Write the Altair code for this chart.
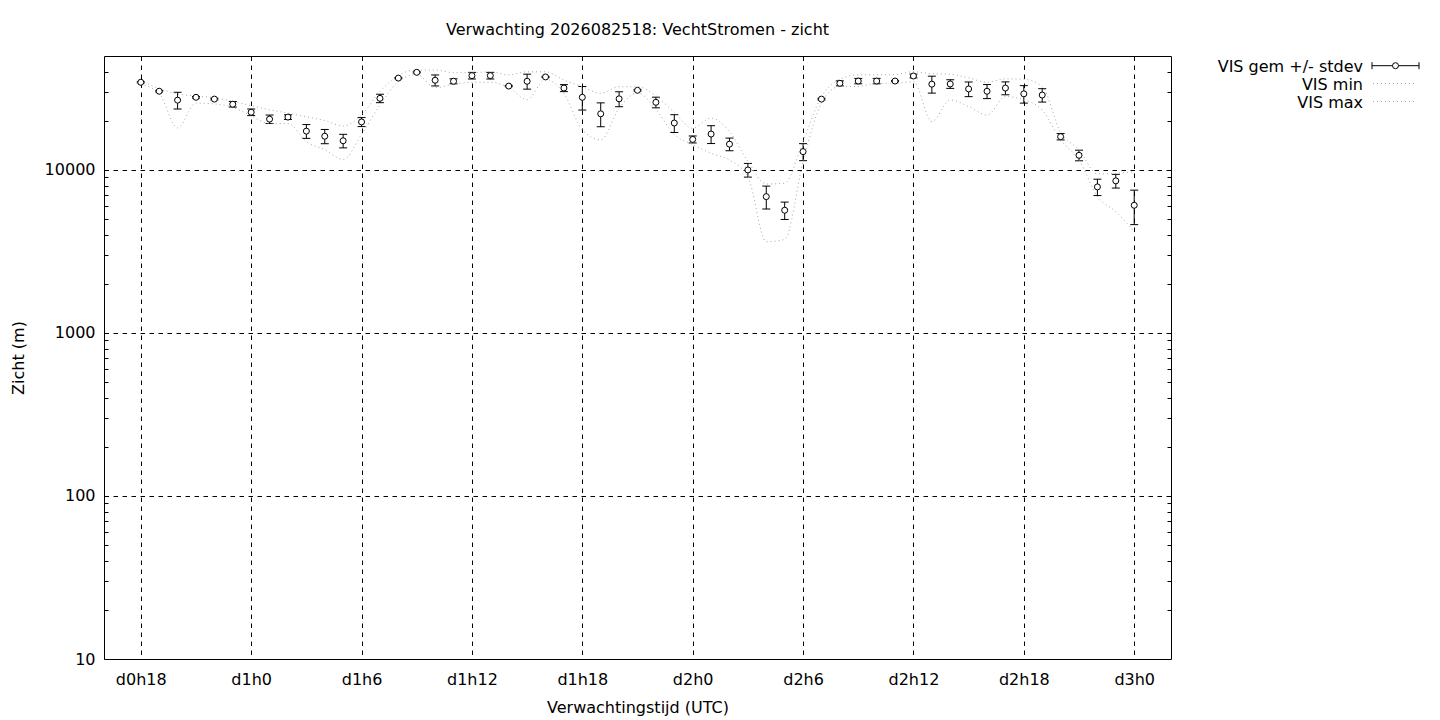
import altair as alt
import pandas as pd

# ---------------- data ----------------
hours = [18, 19, 20, 21, 22, 23, 24, 25, 26, 27, 28, 29, 30, 31, 32, 33, 34, 35, 36,
         37, 38, 39, 40, 41, 42, 43, 44, 45, 46, 47, 48, 49, 50, 51, 52, 53, 54, 55,
         56, 57, 58, 59, 60, 61, 62, 63, 64, 65, 66, 67, 68, 69, 70, 71, 72]

vis_mean = [34500, 30400, 26800, 27900, 27200, 25300, 22600, 20500, 21100, 17300,
            16100, 15100, 19700, 27500, 36600, 39700, 35500, 35000, 37900, 37900,
            32700, 35000, 37200, 31800, 27900, 22100, 27300, 30800, 26000, 19400,
            15400, 16600, 14400, 10000, 6860, 5660, 12950, 27200, 34000, 35100,
            35100, 35100, 37700, 33600, 33700, 31400, 30400, 31800, 29300, 28800,
            16000, 12300, 7870, 8570, 6070]

vis_std = [300, 300, 3150, 300, 300, 1000, 1050, 1215, 690, 1685,
           1615, 1440, 1250, 1630, 300, 300, 2750, 1240, 1770, 1770,
           300, 3690, 300, 1570, 4600, 3690, 2870, 300, 1950, 2430,
           760, 2080, 1285, 965, 1100, 690, 1550, 300, 1200, 1340,
           1340, 300, 1000, 4000, 2050, 3240, 3010, 2890, 3600, 2715,
           720, 920, 905, 825, 1450]

vis_min = [33500, 29500, 18100, 25700, 25400, 24200, 21500, 19200, 19300, 14900,
           13300, 11600, 16500, 25000, 34800, 38500, 32000, 33500, 34500, 34500,
           32000, 27000, 36000, 29500, 17600, 15300, 23900, 29700, 23500, 16500,
           14300, 12650, 11500, 9100, 3630, 3750, 11200, 25700, 32500, 32500,
           34000, 34000, 34800, 19800, 26900, 24500, 21700, 28200, 26900, 23300,
           15300, 11500, 6860, 5550, 4180]

vis_max = [35500, 31500, 29300, 28400, 27800, 26300, 24800, 23400, 22300, 21200,
           20100, 18600, 21800, 30300, 38000, 41000, 41000, 39500, 39500, 40000,
           38300, 40000, 40000, 35600, 32400, 29500, 32400, 32400, 28500, 22500,
           18000, 20800, 17200, 11300, 8200, 8290, 15000, 28200, 36000, 38300,
           38300, 38500, 40000, 39000, 38600, 36700, 34500, 36200, 36000, 32500,
           17000, 13300, 9460, 9540, 9760]

x_ticks = [18, 24, 30, 36, 42, 48, 54, 60, 66, 72]
y_major = [10, 100, 1000, 10000]
y_minor = [20, 30, 40, 50, 60, 70, 80, 90,
           200, 300, 400, 500, 600, 700, 800, 900,
           2000, 3000, 4000, 5000, 6000, 7000, 8000, 9000,
           20000, 30000, 40000]

legend_labels = ["VIS gem +/- stdev", "VIS min", "VIS max"]
title_text = "Verwachting 2026082518: VechtStromen - zicht"
x_title = "Verwachtingstijd (UTC)"
y_title = "Zicht (m)"

# ---------------- chart ----------------
FONT = "DejaVu Sans"
FS = 16
W, H = 1067, 603
DOT = "#a8a8a8"
PT = 36

df = pd.DataFrame({"uur": hours, "gem": vis_mean, "sd": vis_std,
                   "vmin": vis_min, "vmax": vis_max})
df["lo"] = df["gem"] - df["sd"]
df["hi"] = df["gem"] + df["sd"]

xs = alt.Scale(domain=[16, 74], nice=False, zero=False)
ys = alt.Scale(type="log", domain=[10, 50000], nice=False)
X = alt.X("uur:Q", scale=xs, axis=None)

x_axis = alt.Axis(
    orient="bottom", values=x_ticks,
    labelExpr="'d' + floor(datum.value / 24) + 'h' + (datum.value % 24)",
    title=x_title, grid=True, gridColor="black", gridDash=[4.5, 4.5],
    gridWidth=1, gridOpacity=1, ticks=False, tickSize=0, domain=False,
    labelPadding=12, titlePadding=12, labelFlush=False, labelOverlap=False,
)
y_axis = alt.Axis(
    orient="left", values=y_major, format="d", title=y_title,
    grid=True, gridColor="black", gridDash=[4.5, 4.5], gridWidth=1,
    gridOpacity=1, ticks=False, tickSize=0, domain=False,
    labelPadding=9, titlePadding=18, labelFlush=False, labelOverlap=False,
)

base = alt.Chart(df)

bars = base.mark_rule(color="black", strokeWidth=1).encode(
    x=alt.X("uur:Q", scale=xs, axis=x_axis),
    y=alt.Y("lo:Q", scale=ys, axis=y_axis),
    y2="hi:Q",
)
cap_lo = base.mark_tick(orient="horizontal", size=8, thickness=1,
                        color="black", opacity=1).encode(
    x=X, y=alt.Y("lo:Q", scale=ys, axis=None))
cap_hi = base.mark_tick(orient="horizontal", size=8, thickness=1,
                        color="black", opacity=1).encode(
    x=X, y=alt.Y("hi:Q", scale=ys, axis=None))

line_min = base.mark_line(color=DOT, strokeWidth=1, strokeDash=[1, 3],
                          interpolate="monotone").encode(
    x=X, y=alt.Y("vmin:Q", scale=ys, axis=None))
line_max = base.mark_line(color=DOT, strokeWidth=1, strokeDash=[1, 3],
                          interpolate="monotone").encode(
    x=X, y=alt.Y("vmax:Q", scale=ys, axis=None))

pts = base.mark_point(shape="circle", size=PT, filled=True, fill="white",
                      stroke="black", strokeWidth=1, opacity=1).encode(
    x=X, y=alt.Y("gem:Q", scale=ys, axis=None))

minor_left = base.mark_point(opacity=0).encode(
    x=X,
    y=alt.Y("gem:Q", scale=ys, axis=alt.Axis(
        orient="left", values=y_minor, labels=False, domain=False, grid=False,
        ticks=True, tickSize=4, tickColor="black", tickWidth=1, offset=-4,
        title=None)),
)
minor_right = base.mark_point(opacity=0).encode(
    x=X,
    y=alt.Y("gem:Q", scale=ys, axis=alt.Axis(
        orient="right", values=y_minor, labels=False, domain=False, grid=False,
        ticks=True, tickSize=4, tickColor="black", tickWidth=1, offset=-4,
        title=None)),
)

# ---- legend (gnuplot style: label right-aligned, sample to the right) ----
LX_TEXT = 1259
LX0, LX1, LXC = 1268, 1315, 1291.5
rows_text = [10.5, 28.5, 46.5]
rows_sym = [9.7, 27.5, 45.5]

leg = []
for i, lab in enumerate(legend_labels):
    d = alt.Chart(pd.DataFrame({"label": [lab]}))
    leg.append(d.mark_text(align="right", baseline="middle", font=FONT,
                           fontSize=FS, color="black").encode(
        x=alt.value(LX_TEXT), y=alt.value(rows_text[i]), text="label:N"))

one = alt.Chart(pd.DataFrame({"label": [legend_labels[0]]}))
leg.append(one.mark_rule(color="black", strokeWidth=1).encode(
    x=alt.value(LX0), x2=alt.value(LX1), y=alt.value(rows_sym[0])))
leg.append(one.mark_rule(color="black", strokeWidth=1).encode(
    x=alt.value(LX0), y=alt.value(rows_sym[0] - 3.5), y2=alt.value(rows_sym[0] + 3.5)))
leg.append(one.mark_rule(color="black", strokeWidth=1).encode(
    x=alt.value(LX1), y=alt.value(rows_sym[0] - 3.5), y2=alt.value(rows_sym[0] + 3.5)))
leg.append(one.mark_point(shape="circle", size=PT, filled=True, fill="white",
                          stroke="black", strokeWidth=1, opacity=1).encode(
    x=alt.value(LXC), y=alt.value(rows_sym[0])))
for i in (1, 2):
    d = alt.Chart(pd.DataFrame({"label": [legend_labels[i]]}))
    leg.append(d.mark_rule(color=DOT, strokeWidth=1, strokeDash=[1, 3]).encode(
        x=alt.value(LX0 + 1), x2=alt.value(LX1 - 2), y=alt.value(rows_sym[i])))

chart = alt.layer(
    bars, cap_lo, cap_hi, line_min, line_max, pts, minor_left, minor_right, *leg
).resolve_axis(x="independent", y="independent").properties(
    width=W, height=H,
    title=alt.TitleParams(title_text, anchor="middle", frame="group",
                          font=FONT, fontSize=FS, fontWeight="normal",
                          color="black", offset=18),
    autosize=alt.AutoSizeParams(type="none"),
    padding={"left": 96, "top": 48, "right": 256, "bottom": 58},
    background="white",
).configure_view(
    stroke="black", strokeWidth=1
).configure_axis(
    labelFont=FONT, titleFont=FONT, labelFontSize=FS, titleFontSize=FS,
    labelColor="black", titleColor="black", titleFontWeight="normal",
)

chart.save("out.html", embed_options={"renderer": "svg", "actions": False})
